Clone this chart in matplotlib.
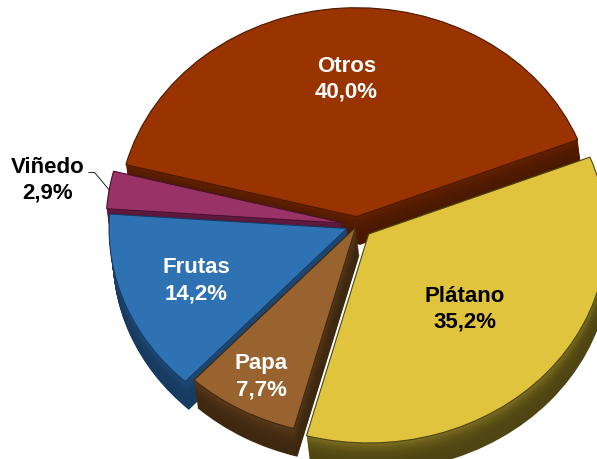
import numpy as np
import matplotlib
matplotlib.use("Agg")
import matplotlib.pyplot as plt
from matplotlib.colors import to_rgb

# ---- data ----
categories = ["Otros", "Viñedo", "Frutas", "Papa", "Plátano"]
shares = [40.0, 2.9, 14.2, 7.7, 35.2]
pct_labels = ["40,0%", "2,9%", "14,2%", "7,7%", "35,2%"]

# ---- style ----
top_colors = ["#993300", "#993366", "#2F72B4", "#99632F", "#E0C43E"]
side_colors = ["#4A1800", "#4A1030", "#173A60", "#3F2810", "#4E4512"]
text_colors = ["white", "black", "white", "white", "black"]
explode = [0.04, 0.055, 0.045, 0.01, 0.065]
label_r = [0.66, 1.0, 0.68, 0.82, 0.54]
start_angle = 21.6
depth = 0.135
depth_dx = 0.015
n_layers = 28

plt.rcParams['font.family'] = ['Liberation Sans', 'DejaVu Sans']

fig = plt.figure(figsize=(5.97, 4.59), dpi=100)
ax = fig.add_axes([0, 0, 1, 1])


def mix(c1, c2, t):
    a, b = np.array(to_rgb(c1)), np.array(to_rgb(c2))
    return tuple(a * (1 - t) + b * t)


# extruded sides (layers from bottom to top)
for k in range(n_layers, 0, -1):
    frac = k / n_layers
    cols = [mix(s, t, 0.35 * (1 - frac) ** 3) for s, t in zip(side_colors, top_colors)]
    ax.pie(shares, colors=cols, startangle=start_angle, explode=explode,
           center=(depth_dx * frac, -depth * frac), wedgeprops=dict(linewidth=0))

# top faces
wedges, _ = ax.pie(shares, colors=top_colors, startangle=start_angle, explode=explode,
                   center=(0, 0), wedgeprops=dict(linewidth=0.8))
for w, sc in zip(wedges, side_colors):
    w.set_edgecolor(sc)

ax.set_aspect('auto')
ax.set_xlim(-1.5, 1.008)
ax.set_ylim(-1.12, 1.077)
ax.axis('off')

# labels
for i, w in enumerate(wedges):
    mid = np.deg2rad((w.theta1 + w.theta2) / 2)
    cx, cy = w.center
    txt = f"{categories[i]}\n{pct_labels[i]}"
    px, py = cx + label_r[i] * np.cos(mid), cy + label_r[i] * np.sin(mid)
    if categories[i] == "Viñedo":
        ax.annotate(txt, xy=(px, py), xytext=(-1.30, 0.215), ha='center', va='center',
                    fontsize=16, fontweight='bold', color=text_colors[i], linespacing=1.3,
                    arrowprops=dict(arrowstyle='-', color='black', lw=0.6,
                                    shrinkA=1, shrinkB=0, relpos=(1.0, 0.66),
                                    connectionstyle='angle,angleA=0,angleB=130'))
    else:
        ax.text(px, py, txt, ha='center', va='center', fontsize=16, fontweight='bold',
                color=text_colors[i], linespacing=1.3)

fig.savefig("out.png", dpi=100)
